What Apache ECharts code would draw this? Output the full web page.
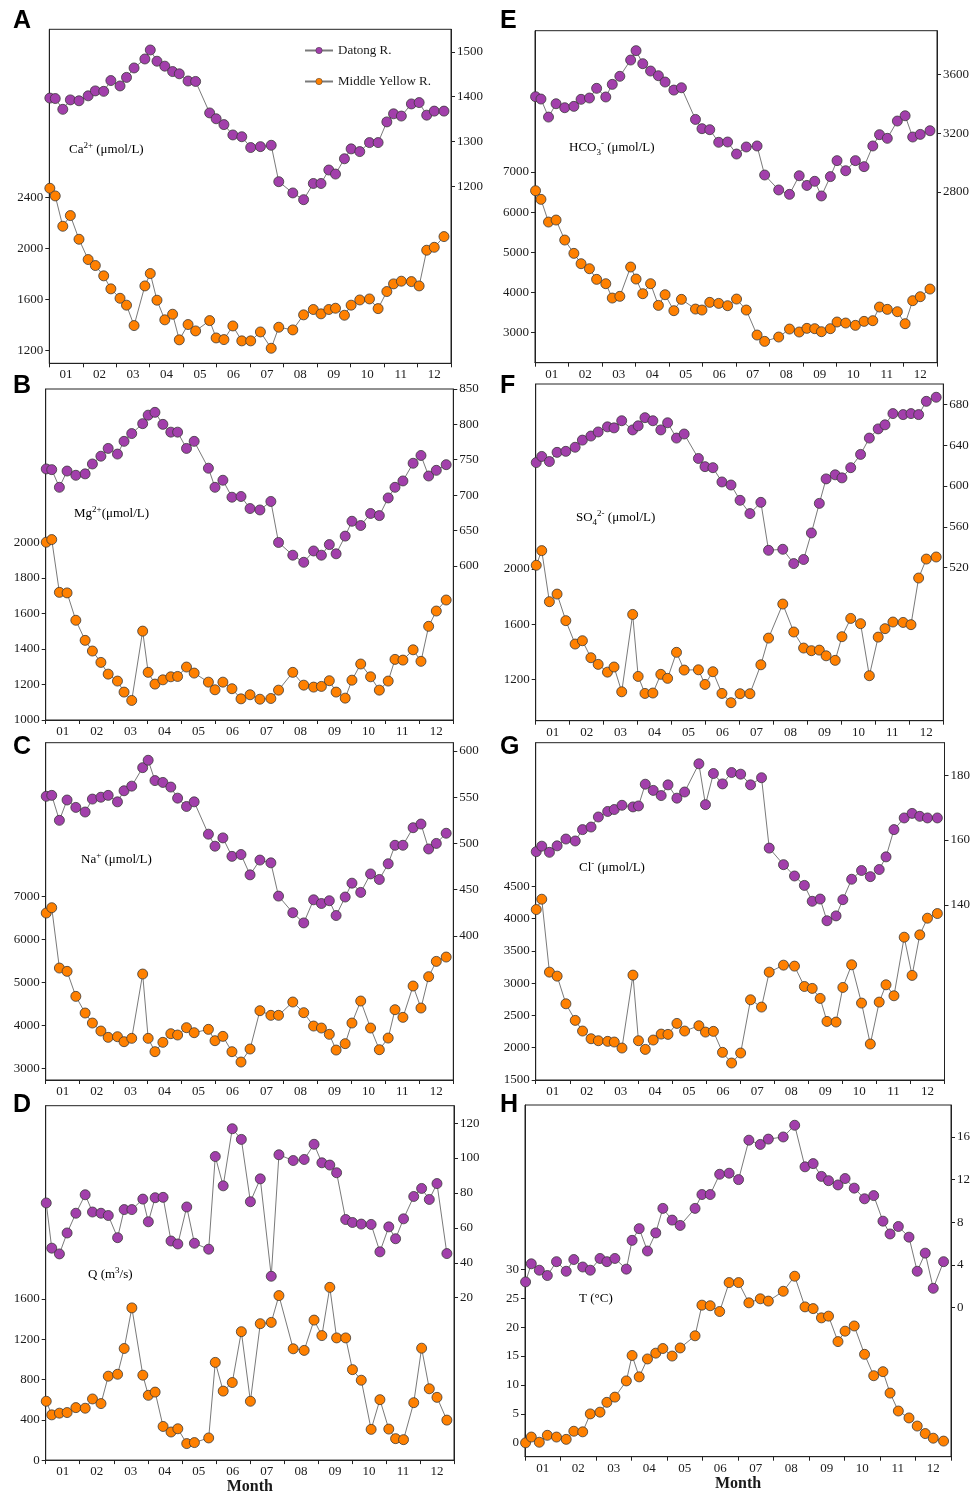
<!DOCTYPE html>
<html>
<head>
<meta charset="utf-8">
<title>Datong R. vs Middle Yellow R. — monthly hydrochemistry</title>
<script src="https://cdn.jsdelivr.net/npm/echarts@6/dist/echarts.min.js"></script>
<style>
  html, body { margin: 0; padding: 0; background: #fff; }
  #chart { width: 973px; height: 1496px; }
</style>
</head>
<body>
<div id="chart"></div>
<script>
// ---- data ---------------------------------------------------------------
const months = ['01','02','03','04','05','06','07','08','09','10','11','12'];

// sampling dates (MM-DD), shared by both rivers and all variables
const sampleDates = ['01-01','01-06','01-13','01-20','01-28','02-05','02-11','02-18','02-24',
  '03-04','03-10','03-17','03-27','04-01','04-07','04-14','04-21','04-27','05-05','05-12',
  '05-25','05-31','06-07','06-15','06-23','07-01','07-10','07-20','07-27','08-09','08-19',
  '08-28','09-04','09-11','09-17','09-25','10-01','10-09','10-18','10-26','11-03','11-09',
  '11-16','11-25','12-02','12-09','12-16','12-25'];

// Ca2+ (umol/L)
const caDatong = [1397,1396,1372,1393,1391,1402,1413,1412,1436,1424,1443,1464,1484,1504,1479,1468,1456,1451,1435,1434,1364,1351,1338,1315,1311,1287,1289,1292,1211,1186,1171,1207,1207,1237,1228,1262,1284,1278,1298,1298,1344,1362,1357,1384,1387,1359,1368,1368];
const caYellow = [2473,2413,2175,2259,2073,1914,1867,1786,1684,1610,1556,1396,1707,1804,1595,1441,1485,1284,1404,1354,1435,1299,1286,1393,1276,1276,1346,1218,1383,1362,1480,1522,1488,1522,1532,1477,1556,1597,1605,1529,1663,1723,1744,1741,1707,1987,2010,2094];
// Mg2+ (umol/L)
const mgDatong = [737,736,711,734,728,730,744,755,766,758,776,787,801,813,817,800,789,789,766,776,738,711,721,697,698,681,679,691,633,615,605,621,615,630,617,642,663,657,674,671,696,711,720,745,756,727,735,743];
const mgYellow = [2000,2015,1718,1715,1561,1448,1388,1324,1258,1219,1157,1110,1500,1268,1202,1226,1243,1245,1298,1264,1213,1170,1213,1176,1119,1142,1117,1121,1168,1268,1196,1185,1189,1221,1157,1123,1224,1315,1243,1168,1219,1341,1337,1395,1330,1527,1613,1675];
// Na+ (umol/L)
const naDatong = [551,552,525,547,539,534,548,550,552,545,557,562,582,590,568,566,561,549,540,545,510,497,506,486,488,466,482,479,443,425,414,439,435,438,422,442,457,447,467,461,478,498,498,517,521,494,500,511];
const naYellow = [6612,6736,5333,5256,4674,4287,4054,3868,3721,3736,3620,3698,5194,3698,3388,3605,3806,3775,3946,3829,3907,3643,3744,3388,3147,3450,4341,4233,4233,4543,4295,3984,3938,3791,3426,3574,4054,4566,3938,3434,3705,4364,4186,4915,4403,5132,5488,5589];
// Q (m3/s)
const qDatong = [74.3,48.4,45.1,57.1,68.4,79.0,69.1,68.4,67.1,54.4,70.5,70.5,76.5,63.5,77.3,77.5,52.5,50.8,72.0,51.2,47.8,100.9,84.1,116.8,110.7,75.0,88.1,32.3,101.9,98.6,99.2,107.9,97.3,96.0,91.6,64.8,63.1,62.2,62.0,46.3,60.6,53.8,65.2,78.0,82.6,76.3,85.4,45.3];
const qYellow = [584,449,466,472,521,515,607,561,833,852,1108,1511,843,643,675,334,279,311,164,174,220,970,685,770,1275,584,1354,1367,1633,1105,1089,1390,1236,1715,1213,1213,898,793,305,600,308,213,203,570,1111,708,623,397];
// HCO3- (umol/L)
const hco3Datong = [3450,3434,3311,3402,3375,3384,3432,3441,3507,3448,3534,3589,3700,3764,3675,3625,3593,3550,3495,3511,3295,3232,3225,3139,3141,3059,3107,3114,2916,2814,2784,2911,2845,2873,2773,2905,3014,2945,3014,2973,3114,3191,3166,3284,3320,3175,3193,3218];
const hco3Yellow = [6535,6320,5755,5805,5307,4975,4718,4593,4328,4220,3863,3905,4635,4336,3971,4220,3680,3946,3548,3830,3589,3564,3755,3730,3672,3838,3564,2942,2784,2892,3091,3017,3108,3100,3025,3100,3266,3241,3183,3282,3299,3639,3581,3523,3224,3797,3896,4087];
// SO42- (umol/L)
const so4Datong = [623,629,624,633,634,638,645,649,653,658,657,664,655,659,667,664,655,662,647,651,627,619,618,604,601,586,573,584,537,538,524,528,554,583,607,611,608,618,631,647,656,660,671,670,671,670,683,687];
const so4Yellow = [2027,2133,1764,1819,1627,1458,1482,1359,1311,1255,1292,1113,1672,1224,1101,1104,1239,1210,1398,1270,1272,1166,1258,1101,1034,1099,1099,1308,1501,1747,1545,1429,1410,1414,1373,1340,1511,1643,1605,1229,1508,1569,1617,1614,1598,1935,2072,2087];
// Cl- (umol/L)
const clDatong = [156.4,158.1,156.2,158.2,160.3,159.7,163.2,164.0,167.1,168.8,169.4,170.7,170.2,170.5,177.2,175.3,173.7,177.0,172.9,174.8,183.5,170.9,180.5,177.3,180.8,180.3,177.0,179.2,157.5,152.4,148.9,146.0,141.1,141.8,135.1,136.6,141.6,147.9,150.6,148.7,150.9,154.8,163.2,166.8,168.2,167.3,166.8,166.8];
const clYellow = [4139,4299,3170,3108,2680,2423,2258,2139,2108,2098,2088,1995,3124,2108,1974,2119,2211,2206,2376,2258,2340,2242,2253,1928,1763,1918,2742,2629,3170,3278,3263,2948,2918,2763,2407,2397,2933,3284,2691,2057,2706,2974,2804,3711,3119,3747,4005,4077];
// T (degC)
const tDatong = [2.4,4.1,3.5,3.0,4.3,3.4,4.5,3.8,3.5,4.6,4.3,4.6,3.6,6.3,7.4,5.3,7.0,9.3,8.2,7.7,9.3,10.6,10.6,12.5,12.6,12.0,15.7,15.3,15.8,16.0,17.1,13.2,13.5,12.3,11.9,11.5,12.1,11.2,10.2,10.5,8.1,6.9,7.6,6.6,3.4,5.1,1.8,4.3];
const tYellow = [0.0,1.0,0.1,1.3,1.0,0.6,2.0,1.9,5.0,5.3,7.0,7.9,10.7,15.1,11.4,14.5,15.5,16.3,15.0,16.4,18.5,23.8,23.7,22.7,27.7,27.7,24.2,24.9,24.5,26.2,28.8,23.5,23.2,21.6,21.9,17.5,19.3,20.2,15.3,11.6,12.3,8.6,5.5,4.3,2.9,1.6,0.8,0.3];

// tick labels on the left (Middle Yellow R.) and right (Datong R.) axes
const caTicksL = [1200,1600,2000,2400],          caTicksR = [1200,1300,1400,1500];
const mgTicksL = [1000,1200,1400,1600,1800,2000], mgTicksR = [600,650,700,750,800,850];
const naTicksL = [3000,4000,5000,6000,7000],     naTicksR = [400,450,500,550,600];
const qTicksL  = [0,400,800,1200,1600],          qTicksR  = [20,40,60,80,100,120];
const hco3TicksL = [3000,4000,5000,6000,7000],   hco3TicksR = [2800,3200,3600];
const so4TicksL  = [1200,1600,2000],             so4TicksR  = [520,560,600,640,680];
const clTicksL   = [1500,2000,2500,3000,3500,4000,4500], clTicksR = [140,160,180];
const tTicksL    = [0,5,10,15,20,25,30],         tTicksR    = [0,4,8,12,16];

// ---- helpers ------------------------------------------------------------
const DAYS = [31,28,31,30,31,30,31,31,30,31,30,31];
// position on a month axis where every month has the same width
function monthPos(s) {
  const [m, d] = s.split('-').map(Number);
  return (m - 1) + (d - 0.5) / DAYS[m - 1];
}
const xs = sampleDates.map(monthPos);
const pairs = vals => vals.map((v, i) => [xs[i], v]);

const SERIF = "'Liberation Serif', 'Times New Roman', 'DejaVu Serif', serif";
const SANS = "'Liberation Sans', Arial, sans-serif";
const INK = '#1a1a1a';
const PURPLE = '#a23fab';
const ORANGE = '#ff8000';
const EDGE = '#3a3a3a';

// rich-text styles for the unit captions
const rich = {
  n:   { fontFamily: SERIF, fontSize: 13, color: INK, lineHeight: 18 },
  sup: { fontFamily: SERIF, fontSize: 9,  color: INK, lineHeight: 10, verticalAlign: 'top' },
  sub: { fontFamily: SERIF, fontSize: 9,  color: INK, lineHeight: 10, verticalAlign: 'bottom' }
};

// panel layout: grid box [left, top, width, height], axis ranges, captions
const panels = [
  { letter: 'A', lx: 13,  ly: 21,   box: [49.3, 29.3, 401.7, 334],
    caption: '{n|Ca}{sup|2+}{n| (μmol/L)}', cx: 69, cy: 141,
    L: [1100, 3720, caTicksL], R: [807, 1550, caTicksR], yellow: caYellow, datong: caDatong },
  { letter: 'E', lx: 500, ly: 21,   box: [535, 30.7, 402, 332],
    caption: '{n|HCO}{sub|3}{sup|-}{n| (μmol/L)}', cx: 569, cy: 139,
    L: [2253, 10519, hco3TicksL], R: [1636, 3900, hco3TicksR], yellow: hco3Yellow, datong: hco3Datong },
  { letter: 'B', lx: 13,  ly: 386,  box: [45.7, 389, 407.6, 331],
    caption: '{n|Mg}{sup|2+}{n|(μmol/L)}', cx: 74, cy: 505,
    L: [1000, 2862, mgTicksL], R: [382, 850, mgTicksR], yellow: mgYellow, datong: mgDatong },
  { letter: 'F', lx: 500, ly: 386,  box: [535.7, 384, 407.6, 336.7],
    caption: '{n|SO}{sub|4}{sup|2-}{n| (μmol/L)}', cx: 576, cy: 509,
    L: [904, 3337, so4TicksL], R: [370, 700, so4TicksR], yellow: so4Yellow, datong: so4Datong },
  { letter: 'C', lx: 13,  ly: 747,  box: [45.7, 742.7, 407.6, 337.3],
    caption: '{n|Na}{sup|+}{n| (μmol/L)}', cx: 81, cy: 851,
    L: [2729, 10574, naTicksL], R: [244, 609, naTicksR], yellow: naYellow, datong: naDatong },
  { letter: 'G', lx: 500, ly: 747,  box: [535.7, 742.7, 409.3, 337.3],
    caption: '{n|Cl}{sup|-}{n| (μmol/L)}', cx: 579, cy: 859,
    L: [1500, 6722, clTicksL], R: [86, 190, clTicksR], yellow: clYellow, datong: clDatong },
  { letter: 'D', lx: 13,  ly: 1105, box: [45.7, 1105.7, 408.3, 357.6],
    caption: '{n|Q (m}{sup|3}{n|/s)}', cx: 88, cy: 1266,
    L: [0, 3518, qTicksL], R: [-73, 130, qTicksR], yellow: qYellow, datong: qDatong, month: true },
  { letter: 'H', lx: 500, ly: 1105, box: [525, 1105, 426, 351.7],
    caption: '{n|T (°C)}', cx: 579, cy: 1292,
    L: [-2.4, 58.4, tTicksL], R: [-14, 19, tTicksR], yellow: tYellow, datong: tDatong, month: true }
];

// ---- option -------------------------------------------------------------
const grid = [], xAxis = [], yAxis = [], series = [], graphic = [];
const axisLabelBase = { fontFamily: SERIF, fontSize: 13, color: INK };
const lineBase = { lineStyle: { color: '#222', width: 1 } };
const plain = v => String(v);

panels.forEach((p, i) => {
  const [left, top, width, height] = p.box;
  grid.push({ left, top, width, height, show: true, borderColor: '#222', borderWidth: 1,
              backgroundColor: 'transparent', containLabel: false });

  // numeric month axis carrying the data and the month-boundary ticks
  xAxis.push({
    type: 'value', gridIndex: i, min: 0, max: 12, interval: 1, position: 'bottom',
    axisLine: { show: true, onZero: false, ...lineBase },
    axisTick: { show: true, inside: false, length: 4, lineStyle: { color: '#222' } },
    axisLabel: { show: false }, splitLine: { show: false }
  });
  // month names centred inside each month band
  xAxis.push({
    type: 'category', gridIndex: i, data: months, boundaryGap: true, position: 'bottom',
    axisLine: { show: false }, axisTick: { show: false }, splitLine: { show: false },
    axisLabel: { ...axisLabelBase, margin: 5, interval: 0 },
    name: p.month ? 'Month' : '', nameLocation: 'middle', nameGap: 18,
    nameTextStyle: { fontFamily: SERIF, fontSize: 16, fontWeight: 'bold', color: INK }
  });

  const yAxisOf = (range, position) => ({
    type: 'value', gridIndex: i, position, min: range[0], max: range[1],
    axisLine: { show: true, onZero: false, ...lineBase },
    axisTick: { show: true, inside: false, length: 4, customValues: range[2], lineStyle: { color: '#222' } },
    axisLabel: { ...axisLabelBase, margin: 6, customValues: range[2], formatter: plain },
    splitLine: { show: false }
  });
  yAxis.push(yAxisOf(p.L, 'left'));
  yAxis.push(yAxisOf(p.R, 'right'));

  const seriesOf = (name, vals, color, yIdx) => ({
    name, type: 'line', xAxisIndex: 2 * i, yAxisIndex: yIdx,
    data: pairs(vals),
    symbol: 'circle', symbolSize: 10,
    lineStyle: { color: '#7a7a7a', width: 1 },
    itemStyle: { color, borderColor: EDGE, borderWidth: 0.8 },
    emphasis: { disabled: true }, animation: false
  });
  series.push(seriesOf('Middle Yellow R.', p.yellow, ORANGE, 2 * i));
  series.push(seriesOf('Datong R.', p.datong, PURPLE, 2 * i + 1));

  graphic.push({
    type: 'text', left: p.lx, top: p.ly - 12,
    style: { text: p.letter, font: `bold 25px ${SANS}`, fill: '#000' }
  });
  graphic.push({
    type: 'text', left: p.cx, top: p.cy,
    style: { text: p.caption, rich }
  });
});

const option = {
  backgroundColor: '#fff',
  animation: false,
  grid, xAxis, yAxis, series, graphic,
  legend: {
    data: [
      { name: 'Datong R.', itemStyle: { color: PURPLE, borderColor: EDGE, borderWidth: 0.5 } },
      { name: 'Middle Yellow R.', itemStyle: { color: ORANGE, borderColor: EDGE, borderWidth: 0.5 } }
    ],
    orient: 'vertical', left: 304, top: 44, padding: 0,
    itemWidth: 28, itemHeight: 8, itemGap: 18,
    textStyle: { fontFamily: SERIF, fontSize: 13, color: INK },
    selectedMode: false
  }
};

const chart = echarts.init(document.getElementById('chart'), null, { renderer: 'canvas' });
chart.setOption(option);
</script>
</body>
</html>
